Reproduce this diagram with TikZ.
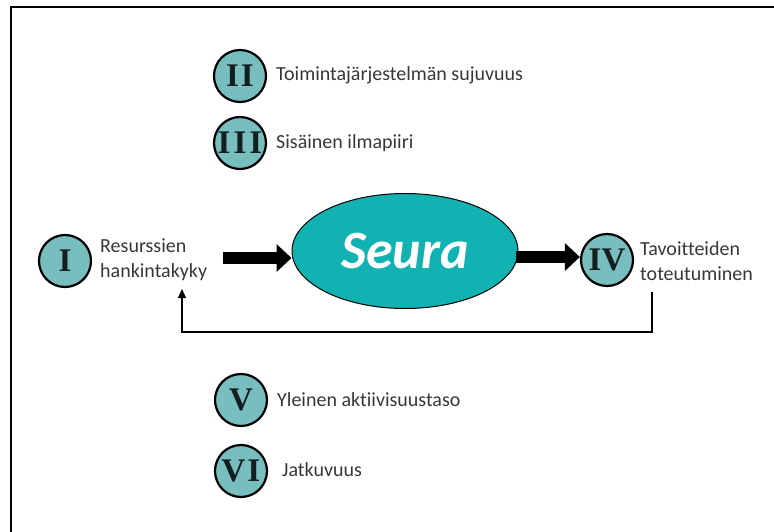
\documentclass[tikz,border=0pt]{standalone}
\usepackage{fontspec}
\setmainfont[Ligatures={NoCommon}]{Carlito}
\newfontfamily\numfont{Liberation Serif}
\usetikzlibrary{shapes.geometric,arrows.meta}
\definecolor{circfill}{RGB}{120,190,190}
\definecolor{seurafill}{RGB}{18,178,178}
\definecolor{numcol}{RGB}{20,30,30}
\definecolor{labcol}{RGB}{55,55,55}
\tikzset{
  numcirc/.style={circle, draw=black, line width=2.2pt, fill=circfill, minimum size=52pt, inner sep=0pt,
    font=\numfont\bfseries\fontsize{33}{33}\selectfont, text=numcol},
  lab/.style={anchor=west, inner sep=0pt, font=\fontsize{20}{25}\selectfont, text=labcol, align=left},
  bigarrow/.style={line width=12pt, -{Triangle[width=27pt,length=15pt]}},
  fbline/.style={line width=1.1pt, -{Triangle[width=8pt,length=9pt]}},
  framel/.style={line width=2pt}
}
\begin{document}
\begin{tikzpicture}[x=1pt,y=-1pt]
\useasboundingbox (0,0) rectangle (774,532);
% frame
\coordinate (fbl) at (11,532);
\coordinate (ftl) at (11,7);
\coordinate (ftr) at (774,7);
\draw[framel] (fbl) -- (ftl) -- (ftr);
% top items
\node[numcirc] (c2) at (240,76) {I\kern2pt I};
\node[lab] (t2) at (276,75) {Toimintajärjestelmän sujuvuus};
\node[numcirc] (c3) at (240,143) {I\kern3pt I\kern3pt I};
\node[lab] (t3) at (276,143) {Sisäinen ilmapiiri};
% middle row
\node[numcirc] (c1) at (65,261) {I};
\node[lab] (t1) at (100,260) {Resurssien\\hankintakyky};
\node[ellipse, draw=black, line width=1pt, fill=seurafill, minimum width=226pt, minimum height=115pt, inner sep=0pt,
  text=white, font=\fontsize{54}{54}\selectfont\bfseries\itshape] (seura) at (405,251) {Seura};
\node[numcirc] (c4) at (607,260) {IV};
\node[lab] (t4) at (640,261) {Tavoitteiden\\toteutuminen};
\coordinate (a1s) at (223,258);
\draw[bigarrow] (a1s) -- (seura.west |- a1s);
\coordinate (a2s) at (516,257);
\draw[bigarrow] (a2s) -- (c4.west |- a2s);
% feedback
\coordinate (fbs) at (652,292);
\coordinate (fbc1) at (652,332);
\coordinate (fbc2) at (182,332);
\coordinate (fbe) at (182,289);
\draw[fbline] (fbs) -- (fbc1) -- (fbc2) -- (fbe);
% bottom items
\node[numcirc] (c5) at (241,400) {V};
\node[lab] (t5) at (277,400) {Yleinen aktiivisuustaso};
\node[numcirc] (c6) at (241,471) {V\kern2pt I};
\node[lab] (t6) at (282,470) {Jatkuvuus};
\end{tikzpicture}
\end{document}
